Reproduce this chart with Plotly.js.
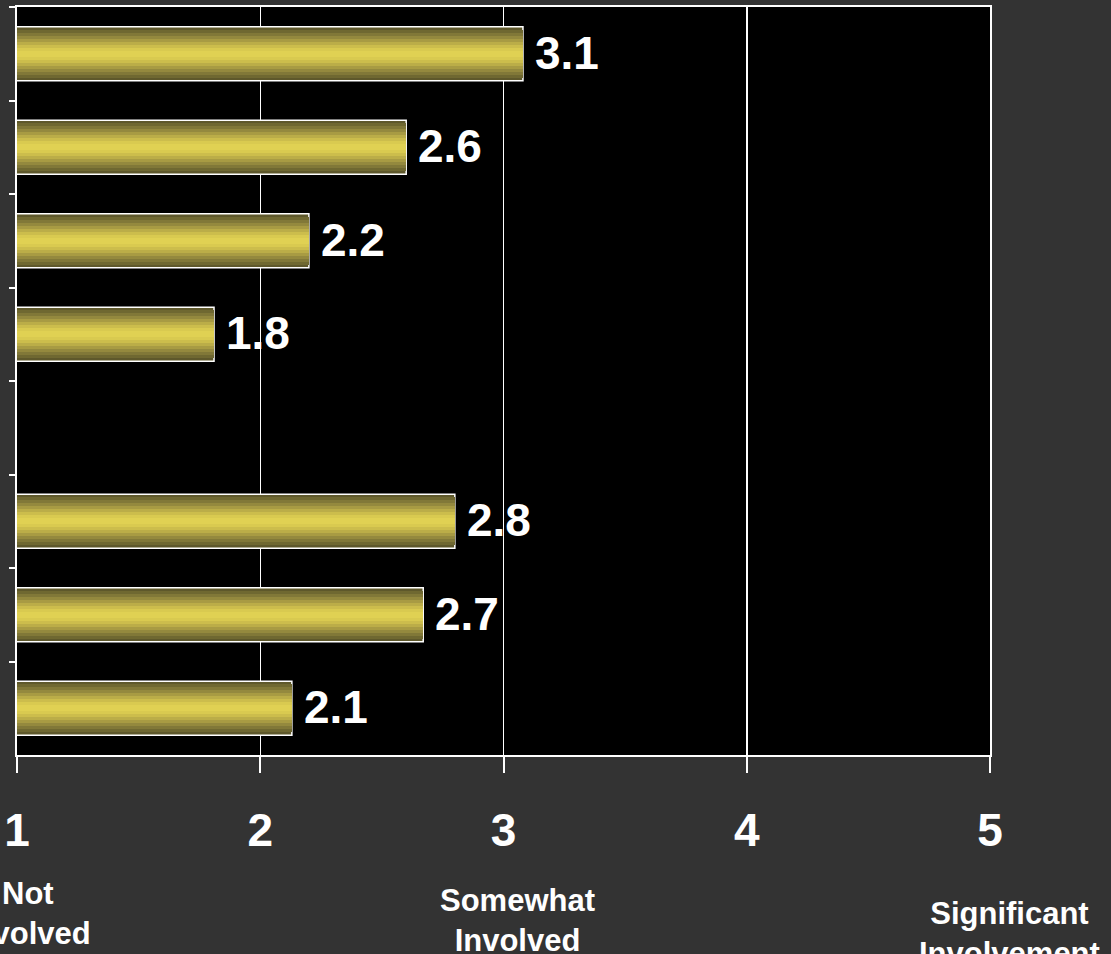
<!DOCTYPE html>
<html>
<head>
<meta charset="utf-8">
<script src="https://cdn.plot.ly/plotly-3.0.1.min.js"></script>
<style>
  html, body { margin: 0; padding: 0; background: #333333; }
  #chart { width: 1111px; height: 954px; }
</style>
</head>
<body>
<div id="chart"></div>
<script>
// ---- data ----
const categories = ["Item 1", "Item 2", "Item 3", "Item 4", " ", "Item 5", "Item 6", "Item 7"];
const values = [3.08, 2.60, 2.20, 1.81, null, 2.80, 2.67, 2.13];
const valueLabels = ["3.1", "2.6", "2.2", "1.8", "", "2.8", "2.7", "2.1"];
const tickValues = [1, 2, 3, 4, 5];
const tickLabels = ["1", "2", "3", "4", "5"];
const scaleNotes = ["Not<br>Involved", "Somewhat<br>Involved", "Significant<br>Involvement"];

// ---- style ----
const W = 1111, H = 954;
const M = { l: 17, r: 121, t: 7, b: 199 };
const plotW = W - M.l - M.r, plotH = H - M.t - M.b;
const bold = { family: "Liberation Sans, Arial, sans-serif", color: "#ffffff", weight: "bold" };

// banded gradient: outer (dark) to inner (bright)
const bandColors = ["#5e582b", "#6f6831", "#817838", "#94893e", "#a89b43", "#bbad48", "#ccbd4c", "#d9ca50", "#e0d153"];
const outerWidth = 0.58;
const traces = bandColors.map((c, i) => ({
  type: "bar",
  orientation: "h",
  y: categories,
  x: values,
  width: outerWidth * (1 - i / bandColors.length),
  marker: {
    color: c,
    line: { color: i === 0 ? "#ffffff" : c, width: i === 0 ? 1.5 : 0 }
  },
  hoverinfo: i === 0 ? "x+y" : "skip",
  showlegend: false
}));

const annotations = [];
categories.forEach((cat, i) => {
  if (values[i] === null) return;
  annotations.push({
    x: values[i], y: cat, xref: "x", yref: "y",
    text: valueLabels[i], showarrow: false,
    xanchor: "left", yanchor: "middle", xshift: 10, yshift: 1,
    font: Object.assign({}, bold, { size: 46 })
  });
});

const px2x = p => (p - M.l) / plotW;
const px2y = p => (H - M.b - p) / plotH;
const notePos = [[28, 874], [517, 881], [1009, 894]];
scaleNotes.forEach((t, i) => {
  annotations.push({
    x: px2x(notePos[i][0]), y: px2y(notePos[i][1]),
    xref: "paper", yref: "paper",
    text: t, showarrow: false,
    xanchor: "center", yanchor: "top",
    font: Object.assign({}, bold, { size: 31 })
  });
});

const layout = {
  width: W, height: H,
  margin: M,
  paper_bgcolor: "#333333",
  plot_bgcolor: "#000000",
  barmode: "overlay",
  bargap: 0,
  showlegend: false,
  xaxis: {
    range: [1, 5],
    tickvals: tickValues,
    ticktext: tickLabels,
    showgrid: true, gridcolor: "#ffffff", gridwidth: 1.5,
    zeroline: false,
    showline: true, linecolor: "#ffffff", linewidth: 2, mirror: true,
    ticks: "outside", ticklen: 16, tickwidth: 2, tickcolor: "#ffffff",
    ticklabelstandoff: 18,
    tickfont: Object.assign({}, bold, { size: 46 }),
    fixedrange: true
  },
  yaxis: {
    type: "category",
    categoryorder: "array",
    categoryarray: categories,
    range: [categories.length - 0.5, -0.5],
    tickson: "boundaries",
    ticks: "outside", ticklen: 6, tickwidth: 2, tickcolor: "#ffffff",
    showticklabels: false,
    showgrid: false, zeroline: false,
    showline: true, linecolor: "#ffffff", linewidth: 2, mirror: true,
    fixedrange: true
  },
  annotations: annotations
};

Plotly.newPlot("chart", traces, layout, { displayModeBar: false, staticPlot: true });
</script>
</body>
</html>
